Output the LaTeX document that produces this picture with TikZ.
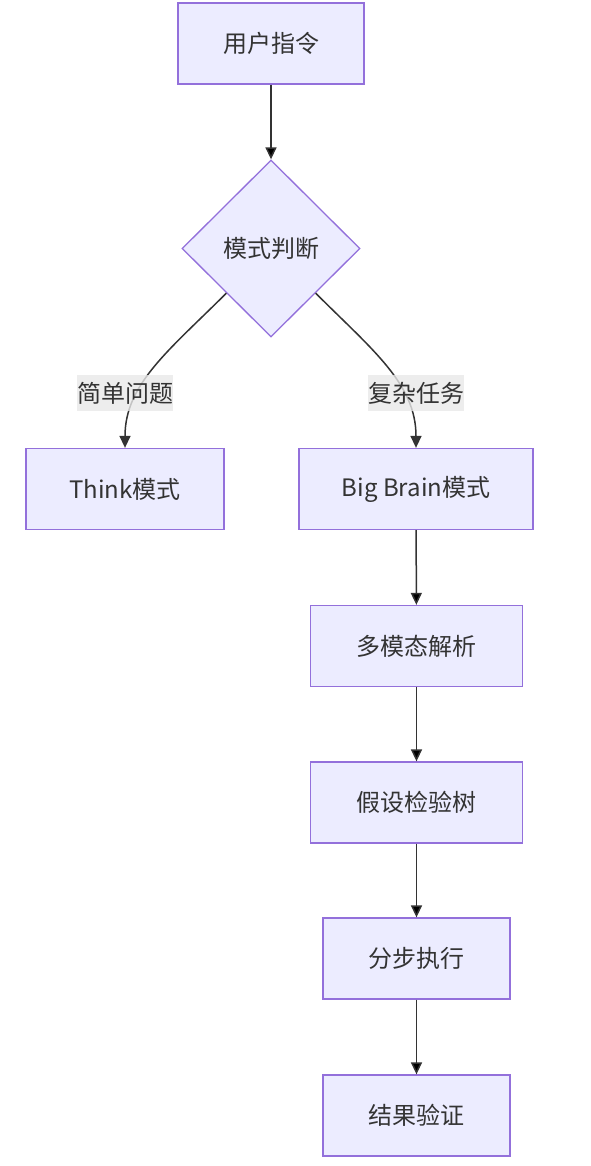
\documentclass[tikz,border=0pt]{standalone}
\usepackage{fontspec}
\setmainfont{Noto Sans CJK SC}
\usetikzlibrary{shapes.geometric,arrows.meta}
\definecolor{boxfill}{HTML}{ECECFF}
\definecolor{boxline}{HTML}{9370DB}
\definecolor{ink}{HTML}{333333}
\definecolor{tagfill}{HTML}{E8E8E8}
\begin{document}
\begin{tikzpicture}[x=1pt, y=-1pt,
        font=\fontsize{24}{28}\selectfont, text=ink,
        box/.style={draw=boxline, fill=boxfill, line width=1.3pt, inner sep=0pt, minimum height=81pt},
        choice/.style={diamond, draw=boxline, fill=boxfill, line width=1.3pt, inner sep=0pt, minimum width=178pt, minimum height=177pt},
        tag/.style={fill=tagfill, fill opacity=0.8, text opacity=1, inner sep=0pt, minimum width=96pt, minimum height=36pt},
        line/.style={draw=ink, line width=1.5pt, -{Triangle[length=12pt, width=11pt]}}]
            \useasboundingbox (0, 0) rectangle (590, 1166);
            \node[box, minimum width=186pt](1) at (271, 43.5) {用户指令};
            \node[choice](2) at (271, 248.5) {模式判断};
            \path[line] (1) edge (2);
            \node[box, minimum width=198pt](3) at (125, 489) {Think模式};
            \node[box, minimum width=234pt](4) at (416, 489) {Big Brain模式};
            \draw[line] (2.-135) .. controls +(-57, 57) and +(0, -64) .. (3.north);
            \draw[line] (2.-45) .. controls +(57, 57) and +(0, -64) .. (4.north);
            \node[tag](5) at (125, 393) {简单问题};
            \node[tag](6) at (416, 393) {复杂任务};
            \node[box, minimum width=212pt](7) at (416.5, 646) {多模态解析};
            \node[box, minimum width=212pt](8) at (416.5, 802.5) {假设检验树};
            \node[box, minimum width=187pt](9) at (416.5, 958.5) {分步执行};
            \node[box, minimum width=187pt](10) at (416.5, 1115.5) {结果验证};
            \path[line] (4) edge (7) (7) edge (8) (8) edge (9) (9) edge (10);
        \end{tikzpicture}
\end{document}
